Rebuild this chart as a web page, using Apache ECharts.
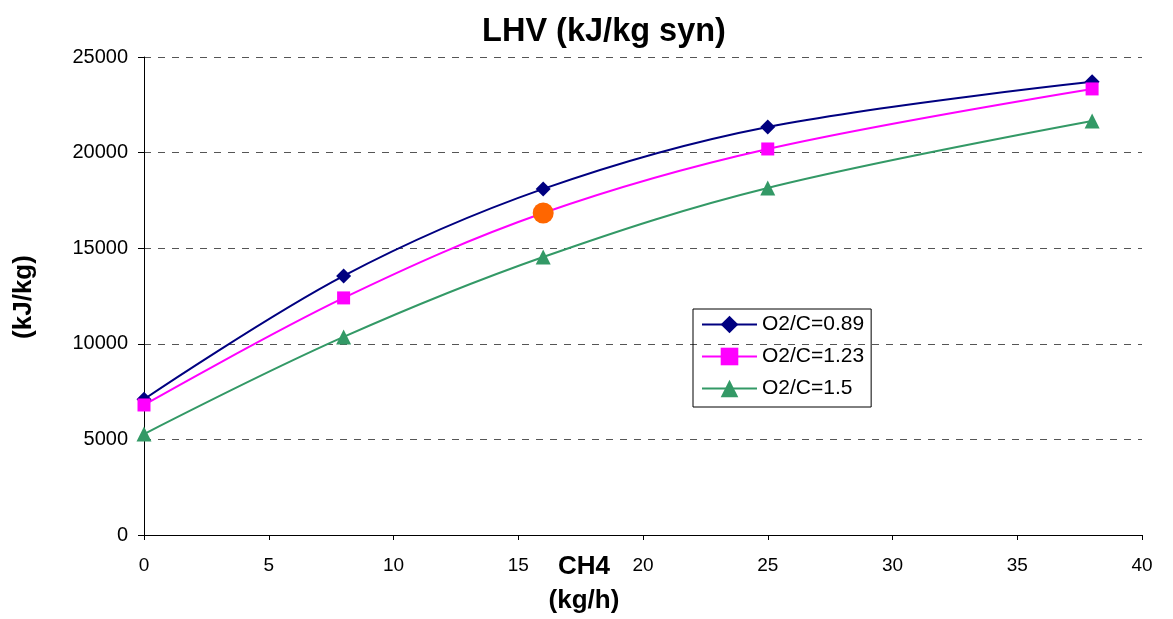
<!DOCTYPE html>
<html><head><meta charset="utf-8">
<script src="https://cdn.jsdelivr.net/npm/echarts@6/dist/echarts.min.js"></script>
<style>html,body{margin:0;padding:0;background:#fff}#c{width:1173px;height:619px}</style>
</head><body><div id="c"></div>
<script>
const xValues = [0, 8, 16, 25, 38];
const s089 = [7100, 13550, 18100, 21340, 23700];
const s123 = [6800, 12400, 16840, 20190, 23330];
const s150 = [5280, 10360, 14540, 18150, 21650];
const highlight = [[16, 16840]];
const seriesNames = ['O2/C=0.89', 'O2/C=1.23', 'O2/C=1.5'];

const pair = (vals) => xValues.map((x, i) => [x, vals[i]]);
const font = 'Arial, "Liberation Sans", sans-serif';
const chart = echarts.init(document.getElementById('c'), null, {renderer: 'canvas'});
chart.setOption({
  animation: false,
  backgroundColor: '#fff',
  grid: {left: 144, right: 31, top: 57, bottom: 84},
  legend: {
    orient: 'vertical', left: 693, top: 309,
    borderColor: '#000', borderWidth: 1, padding: [5, 7, 8, 8], itemGap: 11,
    itemWidth: 55, itemHeight: 22,
    textStyle: {fontFamily: font, fontSize: 21, color: '#000'},
    data: seriesNames
  },
  xAxis: {type: 'value', min: 0, max: 40, interval: 5,
    axisLine: {lineStyle: {color: '#000', width: 1}},
    axisTick: {show: true, inside: false, length: 5, lineStyle: {color: '#000'}},
    axisLabel: {fontFamily: font, fontSize: 19, color: '#000', margin: 21},
    splitLine: {show: false}},
  yAxis: {type: 'value', min: 0, max: 25000, interval: 5000,
    axisLine: {show: true, lineStyle: {color: '#000', width: 1}},
    axisTick: {show: true, inside: false, length: 6, lineStyle: {color: '#000'}},
    axisLabel: {fontFamily: font, fontSize: 20, color: '#000', margin: 16,
      formatter: (v) => String(v)},
    splitLine: {show: true, lineStyle: {color: '#555', type: [7, 7], width: 1}}},
  graphic: [
    {type: 'text', x: 604, y: 32, style: {text: 'LHV (kJ/kg syn)', fontFamily: font, fontSize: 32.5, fontWeight: 'bold', fill: '#000', align: 'center', verticalAlign: 'middle'}},
    {type: 'text', x: 584, y: 567, style: {text: 'CH4', fontFamily: font, fontSize: 26, fontWeight: 'bold', fill: '#000', align: 'center', verticalAlign: 'middle'}},
    {type: 'text', x: 584, y: 601, style: {text: '(kg/h)', fontFamily: font, fontSize: 26, fontWeight: 'bold', fill: '#000', align: 'center', verticalAlign: 'middle'}},
    {type: 'text', x: 24, y: 297, rotation: Math.PI / 2,
      style: {text: '(kJ/kg)', fontFamily: font, fontSize: 26, fontWeight: 'bold', fill: '#000', align: 'center', verticalAlign: 'middle'}}
  ],
  series: [
    {name: seriesNames[0], type: 'line', smooth: 0.35, data: pair(s089),
      symbol: 'diamond', symbolSize: 15, color: '#000080',
      lineStyle: {width: 2, color: '#000080'}, itemStyle: {color: '#000080'}},
    {name: seriesNames[1], type: 'line', smooth: 0.35, data: pair(s123),
      symbol: 'rect', symbolSize: 13, color: '#FF00FF',
      lineStyle: {width: 2, color: '#FF00FF'}, itemStyle: {color: '#FF00FF'}},
    {name: seriesNames[2], type: 'line', smooth: 0.35, data: pair(s150),
      symbol: 'triangle', symbolSize: 15, color: '#339966',
      lineStyle: {width: 2, color: '#339966'}, itemStyle: {color: '#339966'}},
    {name: 'highlight', type: 'scatter', data: highlight, symbol: 'circle', symbolSize: 21,
      itemStyle: {color: '#FF6600', opacity: 1}, z: 10}
  ]
});
</script></body></html>
